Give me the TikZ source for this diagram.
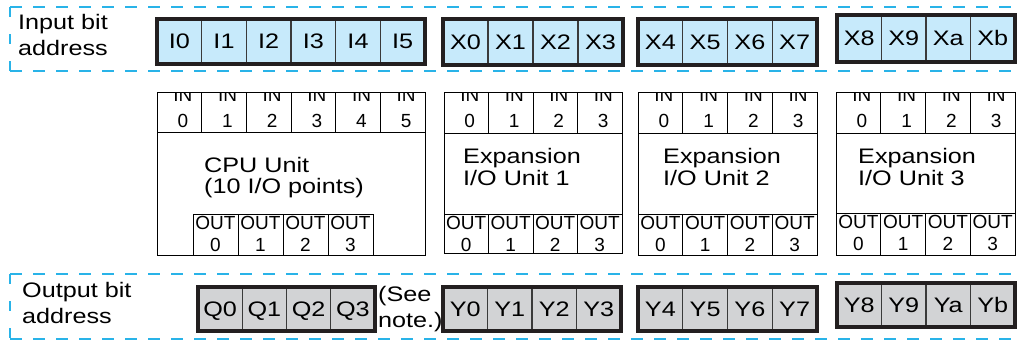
\documentclass[tikz,border=0pt]{standalone}
\usepackage{fontspec}
\setmainfont{Liberation Sans}
\newfontfamily\bigf{Liberation Sans}[FakeStretch=1.2]
\newfontfamily\smallf{Liberation Sans}[FakeStretch=1.0]
\definecolor{dashblue}{HTML}{29B3E8}
\definecolor{cellblue}{HTML}{C7EAFB}
\definecolor{cellgray}{HTML}{D2D3D5}
\definecolor{framedark}{HTML}{231F20}
\definecolor{celldiv}{HTML}{3A3A3A}
\tikzset{
  addr/.style={draw=dashblue, line width=2.6pt, dash pattern=on 12pt off 11pt},
  addrside/.style={draw=dashblue, line width=2.6pt, dash pattern=on 10pt off 17pt},
  cellI/.style={fill=cellblue, draw=celldiv, line width=1.2pt},
  cellO/.style={fill=cellgray, draw=celldiv, line width=1.2pt},
  boxframe/.style={draw=framedark, line width=3.4pt},
  biglbl/.style={font=\bigf\fontsize{21}{22}\selectfont, inner sep=0pt},
  bitlbl/.style={biglbl, anchor=base},
  txtlbl/.style={biglbl, anchor=base west},
  unitline/.style={draw=black, line width=1pt},
  smalllbl/.style={font=\smallf\fontsize{19}{20}\selectfont, inner sep=0pt, anchor=base},
}
% #1 left, #2 top, #3 right, #4 bottom, #5 n, #6 cell style, #7 labels
\newcommand\bitrow[7]{%
  \foreach \t [count=\k] in {#7}{%
    \pgfmathsetmacro\xa{#1+(#3-#1)*(\k-1)/#5}%
    \pgfmathsetmacro\xb{#1+(#3-#1)*\k/#5}%
    \path[#6] (\xa,#2) rectangle (\xb,#4);
    \node[bitlbl] (\t) at ({(\xa+\xb)/2},{(#2+#4)/2+7}) {\t};
  }
  \draw[boxframe] (#1,#2) rectangle (#3,#4);
}
% #1 left, #2 top, #3 right, #4 bottom, #5 n, #6 prefix
\newcommand\inrow[6]{%
  \begin{scope}
    \clip (#1,#2) rectangle (#3,#4);
    \foreach \k in {1,...,#5}{%
      \pgfmathsetmacro\xa{#1+(#3-#1)*(\k-1)/#5}%
      \pgfmathsetmacro\xb{#1+(#3-#1)*\k/#5}%
      \pgfmathtruncatemacro\d{\k-1}%
      \node[smalllbl] (#6in\d) at ({(\xa+\xb)/2+3.5},{#2+9.5}) {IN};
      \node[smalllbl] (#6inn\d) at ({(\xa+\xb)/2+3.5},{#2+35}) {\d};
      \ifnum\k<#5 \draw[unitline] (\xb,#2) -- (\xb,#4);\fi
    }
  \end{scope}
  \draw[unitline] (#1,#4) -- (#3,#4);
}
\newcommand\outrow[6]{%
  \draw[unitline] (#1,#2) rectangle (#3,#4);
  \foreach \k in {1,...,#5}{%
    \pgfmathsetmacro\xa{#1+(#3-#1)*(\k-1)/#5}%
    \pgfmathsetmacro\xb{#1+(#3-#1)*\k/#5}%
    \pgfmathtruncatemacro\d{\k-1}%
    \node[smalllbl] (#6out\d) at ({(\xa+\xb)/2},{#2+15}) {OUT};
    \node[smalllbl] (#6outn\d) at ({(\xa+\xb)/2},{#2+37}) {\d};
    \ifnum\k<#5 \draw[unitline] (\xb,#2) -- (\xb,#4);\fi
  }
}
\begin{document}
\begin{tikzpicture}[x=1pt,y=-1pt]
\useasboundingbox[fill=white] (0,0) rectangle (1017,341);
% input address band
\draw[addr] (10,7) -- (1012,7);
\draw[addr] (10,71) -- (1012,71);
\draw[addrside] (10,7) -- (10,71);
\node[txtlbl] (inlbl1) at (18,29) {Input bit};
\node[txtlbl] (inlbl2) at (18,55) {address};
\bitrow{157}{19}{425}{64}{6}{cellI}{I0,I1,I2,I3,I4,I5}
\bitrow{443}{19}{623}{65}{4}{cellI}{X0,X1,X2,X3}
\bitrow{638}{19}{817}{65}{4}{cellI}{X4,X5,X6,X7}
\bitrow{837}{15}{1015}{62}{4}{cellI}{X8,X9,Xa,Xb}
% units
\draw[unitline] (157,92) rectangle (425,255);
\inrow{157}{92}{425}{132}{6}{cpu}
\outrow{193}{214}{373}{255}{4}{cpu}
\node[txtlbl] (cpuT1) at (204,172) {CPU Unit};
\node[txtlbl] (cpuT2) at (204,193) {(10 I/O points)};

\draw[unitline] (444,92) rectangle (622,253);
\inrow{444}{92}{622}{133}{4}{ea}
\outrow{444}{214}{622}{253}{4}{ea}
\node[txtlbl] (eaT1) at (463,163) {Expansion};
\node[txtlbl] (eaT2) at (463,185) {I/O Unit 1};

\draw[unitline] (638,92) rectangle (817,255);
\inrow{638}{92}{817}{133}{4}{eb}
\outrow{638}{214}{817}{255}{4}{eb}
\node[txtlbl] (ebT1) at (663,163) {Expansion};
\node[txtlbl] (ebT2) at (663,185) {I/O Unit 2};

\draw[unitline] (836,92) rectangle (1015,255);
\inrow{836}{92}{1015}{133}{4}{ec}
\outrow{836}{213}{1015}{255}{4}{ec}
\node[txtlbl] (ecT1) at (858,163) {Expansion};
\node[txtlbl] (ecT2) at (858,185) {I/O Unit 3};
% output address band
\draw[addr] (10,274) -- (1012,274);
\draw[addr] (10,339) -- (1012,339);
\draw[addrside] (10,274) -- (10,339);
\node[txtlbl] (outlbl1) at (22,297) {Output bit};
\node[txtlbl] (outlbl2) at (22,323) {address};
\bitrow{198}{287}{375}{331}{4}{cellO}{Q0,Q1,Q2,Q3}
\node[txtlbl] (note1) at (378,301) {(See};
\node[txtlbl] (note2) at (378,327) {note.)};
\bitrow{443}{287}{621}{331}{4}{cellO}{Y0,Y1,Y2,Y3}
\bitrow{638}{287}{817}{331}{4}{cellO}{Y4,Y5,Y6,Y7}
\bitrow{837}{283}{1015}{327}{4}{cellO}{Y8,Y9,Ya,Yb}
\end{tikzpicture}
\end{document}
